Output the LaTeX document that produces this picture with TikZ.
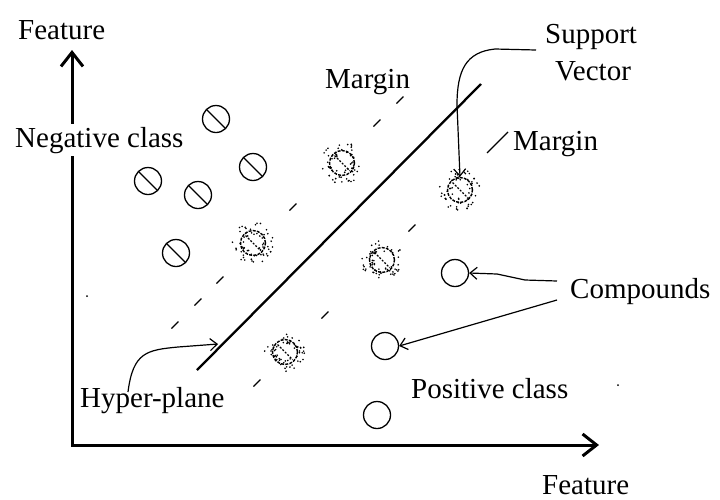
\documentclass[tikz,border=0pt]{standalone}
\usepackage{fontspec}
\setmainfont{Liberation Serif}
\usetikzlibrary{arrows.meta}
\begin{document}
\begin{tikzpicture}[x=1pt,y=-1pt,
  lbl/.style={anchor=base west, inner sep=0pt, font=\fontsize{29}{34}\selectfont},
  axis/.style={line width=3pt, {Straight Barb[length=14pt,width=22pt]}-{Straight Barb[length=14pt,width=22pt]}},
  thinarrow/.style={line width=1.2pt, -{Straight Barb[length=7pt,width=12pt]}},
  marg/.style={line width=1.3pt},
  neg/.style={circle, draw, line width=1.3pt, minimum size=27pt, inner sep=0pt,
    path picture={\draw[line width=1.3pt] (path picture bounding box.north west) -- (path picture bounding box.south east);}},
  posc/.style={circle, draw, line width=1.3pt, minimum size=27pt, inner sep=0pt},
  svc/.style={circle, draw, line width=1.4pt, dash pattern=on 3pt off 1.2pt, minimum size=25pt, inner sep=0pt,
    path picture={\draw[line width=1.1pt, dash pattern=on 2pt off 1.5pt] ([shift={(5pt,-5pt)}]path picture bounding box.north west) -- ([shift={(-5pt,5pt)}]path picture bounding box.south east);}},
  halo/.pic={
    \fill[white] (0,0) circle (19pt);
    \foreach \k in {1,...,60}{
      \pgfmathsetmacro\ang{360*rnd}
      \pgfmathsetmacro\rad{8+13*rnd}
      \fill (\ang:\rad) circle (0.9pt);
    }
  }
]
\pgfmathsetseed{7}
\useasboundingbox (0,0) rectangle (720,499);

% axes
\coordinate (O) at (72,445);
\coordinate (ytip) at (72,50);
\coordinate (xtip) at (599,445);
\draw[axis] (ytip) -- (O) -- (xtip);

% labels
\node[lbl] (fy) at (18,39) {Feature};
\node[lbl] (fx) at (542,494) {Feature};
\node[lbl, fill=white, inner ysep=3pt] (negl) at (15,147) {Negative class};
\node[lbl] (posl) at (411,398) {Positive class};
\node[lbl] (m1) at (325,88) {Margin};
\node[lbl] (m2) at (513,150) {Margin};
\node[lbl] (sv1l) at (545,43) {Support};
\node[lbl] (sv2l) at (555,80) {Vector};
\node[lbl] (comp) at (570,298) {Compounds};
\node[lbl] (hpl) at (80,407) {Hyper-plane};

% margin dashes
\foreach \x in {175,198,220,293,377,400}
  \draw[marg] (\x-3.5, 500-\x+3.5) -- (\x+3.5, 500-\x-3.5);
\foreach \x in {257,325,412}
  \draw[marg] (\x-3.5, 640-\x+3.5) -- (\x+3.5, 640-\x-3.5);
\draw[marg] (487,153) -- (508,132);

% hyper-plane
\coordinate (hp1) at (197,370);
\coordinate (hp2) at (481,84);
\draw[line width=2.3pt] (hp1) -- (hp2);

% negative class
\node[neg] (n1) at (216,119) {};
\node[neg] (n2) at (253,167) {};
\node[neg] (n3) at (148,181) {};
\node[neg] (n4) at (198,195) {};
\node[neg] (n5) at (176,253) {};

% support vectors
\foreach \p/\n in {{(253,243)}/s1, {(342,163)}/s2, {(460,190)}/s3, {(382,260)}/s4, {(285,352)}/s5}{
  \pic at \p {halo};
  \node[svc] (\n) at \p {};
}

% positive class
\node[posc] (p1) at (455,273) {};
\node[posc] (p2) at (385,346) {};
\node[posc] (p3) at (377,415) {};

% stray dots
\fill (87,296) circle (1pt);
\fill (618,385) circle (1pt);

% arrows
\coordinate (sva) at (536,50);
\draw[thinarrow] (sva) -- (495,49) .. controls (466,52) and (457,70) .. (457,105) -- (s3.north);
\coordinate (hpa) at (128,392);
\draw[thinarrow] (hpa) .. controls (133,352) and (147,350) .. (178,347) -- (218,344);
\coordinate (ca) at (557,281);
\coordinate (cb) at (557,300);
\draw[thinarrow] (ca) -- (525,280) -- (497,274) -- (p1.east);
\draw[thinarrow] (cb) -- (p2.east);
\end{tikzpicture}
\end{document}
